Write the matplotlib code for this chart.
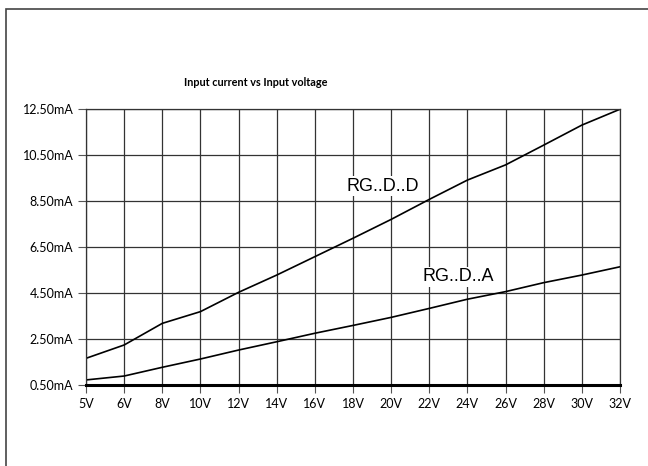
import numpy as np
import matplotlib.pyplot as plt
from matplotlib.patches import Rectangle

volts = ['5V', '6V', '8V', '10V', '12V', '14V', '16V', '18V', '20V',
         '22V', '24V', '26V', '28V', '30V', '32V']
rg_dd = [1.66, 2.24, 3.18, 3.69, 4.53, 5.28, 6.08, 6.88, 7.70,
         8.57, 9.41, 10.07, 10.93, 11.80, 12.49]
rg_da = [0.72, 0.89, 1.27, 1.63, 2.02, 2.38, 2.75, 3.09, 3.44,
         3.83, 4.23, 4.56, 4.95, 5.28, 5.64]
yticks = [0.5, 2.5, 4.5, 6.5, 8.5, 10.5, 12.5]

narrow = ['Lato', 'DejaVu Sans']

fig = plt.figure(figsize=(6.48, 4.66), dpi=100)
W, H = 648, 466
ax = fig.add_axes([86 / W, 1 - 385 / H, (620 - 86) / W, (385 - 109) / H])

x = np.arange(len(volts))
ax.plot(x, rg_dd, color='black', lw=1.2)
ax.plot(x, rg_da, color='black', lw=1.2)

ax.set_xlim(0, len(volts) - 1)
ax.set_ylim(0.5, 12.5)
ax.set_xticks(x)
ax.set_xticklabels(volts, family=narrow, fontsize=9)
ax.set_yticks(yticks)
ax.set_yticklabels(['%.2fmA' % v for v in yticks], family=narrow, fontsize=9)
ax.tick_params(axis='both', direction='out', length=6, width=0.8, color='#555555', pad=3)
ax.grid(True, color='#333333', lw=0.9)
ax.set_axisbelow(True)

for s in ['top', 'right', 'left']:
    ax.spines[s].set_linewidth(0.9)
    ax.spines[s].set_color('#333333')
ax.spines['bottom'].set_linewidth(2.2)
ax.spines['bottom'].set_color('black')

bbox = dict(facecolor='white', edgecolor='none', pad=1)
ax.text(6.84, 9.15, 'RG..D..D', family='Liberation Sans', fontsize=13,
        ha='left', va='center', bbox=bbox)
ax.text(8.81, 5.2, 'RG..D..A', family='Liberation Sans', fontsize=13,
        ha='left', va='center', bbox=bbox)

fig.text(256 / W, 1 - 83 / H, 'Input current vs Input voltage', family=narrow,
         fontweight='bold', fontsize=7.8, ha='center', va='center')

fig.patches.append(Rectangle((6 / W, -0.1), 1.2, 1 - 9 / H + 0.1, transform=fig.transFigure,
                             fill=False, edgecolor='#444444', lw=1.2))

fig.savefig('out.png', dpi=100)
